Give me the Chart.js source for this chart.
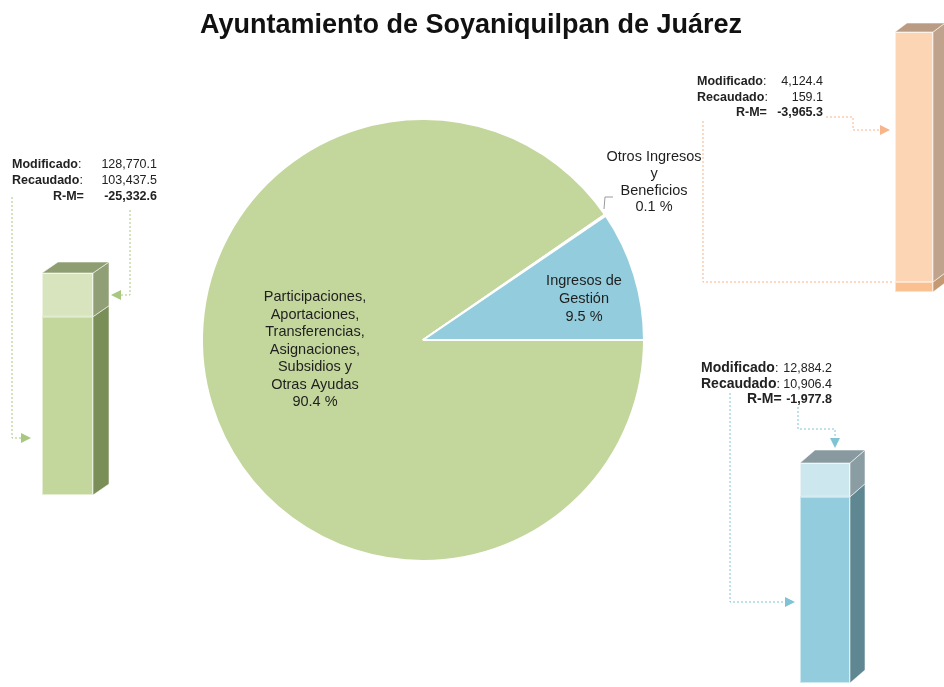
<!DOCTYPE html>
<html lang="es">
<head>
  <meta charset="UTF-8">
  <title>Ayuntamiento de Soyaniquilpan de Juárez</title>
  <script src="https://cdn.jsdelivr.net/npm/chart.js"></script>
  <style>
    body {
      margin: 0;
      background: #fff;
      width: 944px;
      height: 687px;
      position: relative;
      overflow: hidden;
    }
    canvas {
      position: absolute;
    }
  </style>
</head>
<body>

  <canvas id="pastel" width="944" height="687" style="left:0;top:0"></canvas>
  <canvas id="barraVerde"></canvas>
  <canvas id="barraNaranja"></canvas>
  <canvas id="barraAzul"></canvas>

  <script>
    // Datos del pastel (porcentaje del total recaudado)
    const rubros = [
      ['Participaciones,', 'Aportaciones,', 'Transferencias,', 'Asignaciones,', 'Subsidios y', 'Otras Ayudas'],
      ['Otros Ingresos', 'y', 'Beneficios'],
      ['Ingresos de', 'Gestión']
    ];
    const porcentajes = [90.4, 0.1, 9.5];

    // Datos de las barras (miles de pesos)
    const modificado = [128770.1, 4124.4, 12884.2];
    const recaudado = [103437.5, 159.1, 10906.4];
    const diferencia = [-25332.6, -3965.3, -1977.8];

    const colorPastel = ['#C3D69B', '#F6B183', '#93CDDD'];
    const colorFrente = ['#C3D69B', '#FAC090', '#93CDDD'];
    const colorFrenteRM = ['#D7E4BD', '#FCD5B5', '#CDE7EF'];
    const colorLado = ['#7A8F57', '#C49A74', '#5E8791'];
    const colorLadoRM = ['#909F75', '#BFA38C', '#8A9DA3'];
    const colorTecho = ['#8E9E72', '#BA9C85', '#88999F'];
    const colorGuia = ['#A8C77F', '#F8B48A', '#80C3D5'];

    Chart.defaults.font.family = '"Liberation Sans", Arial, sans-serif';

    const fmt = v => v.toLocaleString('en-US', { minimumFractionDigits: 1, maximumFractionDigits: 1 });
    const FUENTE = '"Liberation Sans", Arial, sans-serif';

    // Línea punteada con flecha al final
    function guia(ctx, puntos, color, flecha) {
      ctx.save();
      ctx.strokeStyle = color;
      ctx.lineWidth = 1;
      ctx.setLineDash([2, 2]);
      ctx.beginPath();
      puntos.forEach((p, k) => k ? ctx.lineTo(p[0], p[1]) : ctx.moveTo(p[0], p[1]));
      ctx.stroke();
      ctx.setLineDash([]);
      if (flecha) {
        const a = puntos[puntos.length - 1];
        const b = puntos[puntos.length - 2];
        const ang = Math.atan2(a[1] - b[1], a[0] - b[0]);
        const tip = [a[0] + Math.cos(ang) * 10, a[1] + Math.sin(ang) * 10];
        ctx.fillStyle = color;
        ctx.beginPath();
        ctx.moveTo(tip[0], tip[1]);
        ctx.lineTo(a[0] - Math.sin(ang) * 5, a[1] + Math.cos(ang) * 5);
        ctx.lineTo(a[0] + Math.sin(ang) * 5, a[1] - Math.cos(ang) * 5);
        ctx.closePath();
        ctx.fill();
      }
      ctx.restore();
    }

    // Bloque de texto Modificado / Recaudado / R-M
    function bloque(ctx, i, b) {
      ctx.save();
      ctx.fillStyle = '#222';
      ctx.textBaseline = 'alphabetic';
      ctx.font = 'bold ' + b.t + 'px ' + FUENTE;
      ctx.textAlign = 'left';
      ctx.fillText('Modificado', b.x, b.y);
      ctx.fillText('Recaudado', b.x, b.y + b.paso);
      ctx.fillText('R-M=', b.xrm, b.y + 2 * b.paso);
      const ancho = ctx.measureText('Modificado').width;
      const ancho2 = ctx.measureText('Recaudado').width;
      ctx.font = '12.5px ' + FUENTE;
      ctx.fillText(':', b.x + ancho, b.y);
      ctx.fillText(':', b.x + ancho2, b.y + b.paso);
      ctx.textAlign = 'right';
      ctx.fillText(fmt(modificado[i]), b.xr, b.y);
      ctx.fillText(fmt(recaudado[i]), b.xr, b.y + b.paso);
      ctx.font = 'bold 12.5px ' + FUENTE;
      ctx.fillText(fmt(diferencia[i]), b.xr, b.y + 2 * b.paso);
      ctx.restore();
    }

    const rotulos = {
      id: 'rotulos',
      afterDraw(chart) {
        const ctx = chart.ctx;
        ctx.save();
        // Título
        ctx.fillStyle = '#111';
        ctx.font = 'bold 27px ' + FUENTE;
        ctx.textAlign = 'center';
        ctx.textBaseline = 'alphabetic';
        ctx.fillText('Ayuntamiento de Soyaniquilpan de Juárez', 471, 33);

        // Etiquetas del pastel
        ctx.font = '14.5px ' + FUENTE;
        ctx.fillStyle = '#1f1f1f';
        ctx.textBaseline = 'middle';
        const pos = [[315, 297, 17.5], [654, 157, 16.8], [584, 281, 18]];
        pos.forEach((p, i) => {
          const lineas = rubros[i].concat([porcentajes[i].toFixed(1) + ' %']);
          lineas.forEach((t, k) => ctx.fillText(t, p[0], p[1] + k * p[2]));
        });

        // Guía de "Otros Ingresos"
        ctx.strokeStyle = '#9a9a9a';
        ctx.lineWidth = 1;
        ctx.beginPath();
        ctx.moveTo(604, 209);
        ctx.lineTo(605, 197);
        ctx.lineTo(613, 197);
        ctx.stroke();
        ctx.restore();

        // Textos de las barras
        bloque(ctx, 0, { t: 12.5, x: 12, xrm: 53, xr: 157, y: 168, paso: 16 });
        bloque(ctx, 1, { t: 12.5, x: 697, xrm: 736, xr: 823, y: 85, paso: 15.5 });
        bloque(ctx, 2, { t: 14, x: 701, xrm: 747, xr: 832, y: 372, paso: 15.5 });

        // Guías punteadas
        guia(ctx, [[12, 197], [12, 438], [21, 438]], colorGuia[0], true);
        guia(ctx, [[130, 210], [130, 295], [121, 295]], colorGuia[0], true);
        guia(ctx, [[703, 121], [703, 282], [894, 282]], colorGuia[1], false);
        guia(ctx, [[826, 117], [853, 117], [853, 130], [880, 130]], colorGuia[1], true);
        guia(ctx, [[730, 393], [730, 602], [785, 602]], colorGuia[2], true);
        guia(ctx, [[798, 407], [798, 429], [835, 429], [835, 438]], colorGuia[2], true);
      }
    };

    new Chart(document.getElementById('pastel'), {
      type: 'pie',
      data: {
        labels: rubros.map(r => r.join(' ')),
        datasets: [{
          data: porcentajes,
          backgroundColor: colorPastel,
          borderColor: '#fff',
          borderWidth: 2
        }]
      },
      options: {
        responsive: false,
        animation: false,
        rotation: 90,
        layout: { padding: { left: 201, right: 299, top: 118, bottom: 125 } },
        plugins: { legend: { display: false }, tooltip: { enabled: false } }
      },
      plugins: [rotulos]
    });

    // Caras laterales y superior para dar efecto 3D
    const cubo = {
      id: 'cubo',
      afterDatasetsDraw(chart, args, opts) {
        const ctx = chart.ctx;
        const dx = opts.dx, dy = opts.dy;
        const n = chart.data.datasets.length;
        const poly = pts => {
          ctx.beginPath();
          pts.forEach((p, k) => k ? ctx.lineTo(p[0], p[1]) : ctx.moveTo(p[0], p[1]));
          ctx.closePath();
          ctx.fill();
          ctx.stroke();
        };
        ctx.save();
        ctx.strokeStyle = 'rgba(255,255,255,0.55)';
        ctx.lineWidth = 1;
        for (let d = 0; d < n; d++) {
          const el = chart.getDatasetMeta(d).data[0];
          const izq = el.x - el.width / 2, der = el.x + el.width / 2;
          const arriba = Math.min(el.y, el.base), abajo = Math.max(el.y, el.base);
          ctx.fillStyle = opts.lados[d];
          poly([[der, arriba], [der + dx, arriba - dy], [der + dx, abajo - dy], [der, abajo]]);
          ctx.strokeRect(izq + 0.5, arriba + 0.5, el.width - 1, abajo - arriba - 1);
          if (d === n - 1) {
            ctx.fillStyle = opts.techo;
            poly([[izq, arriba], [izq + dx, arriba - dy], [der + dx, arriba - dy], [der, arriba]]);
          }
        }
        ctx.restore();
      }
    };

    function barra3d(id, i, caja) {
      const c = document.getElementById(id);
      c.width = caja.ancho + caja.dx;
      c.height = caja.alto + caja.dy + 1;
      c.style.left = caja.x + 'px';
      c.style.top = (caja.y - caja.dy) + 'px';
      new Chart(c, {
        type: 'bar',
        data: {
          labels: [rubros[i].join(' ')],
          datasets: [
            { label: 'Recaudado', data: [recaudado[i]], backgroundColor: colorFrente[i] },
            { label: 'R-M', data: [Math.abs(diferencia[i])], backgroundColor: colorFrenteRM[i] }
          ]
        },
        options: {
          responsive: false,
          animation: false,
          barPercentage: 1,
          categoryPercentage: 1,
          layout: { padding: { top: caja.dy, right: caja.dx, bottom: 1, left: 0 } },
          scales: {
            x: { display: false, stacked: true },
            y: { display: false, stacked: true, min: 0, max: modificado[i] }
          },
          plugins: {
            legend: { display: false },
            tooltip: { enabled: false },
            cubo: { dx: caja.dx, dy: caja.dy, lados: [colorLado[i], colorLadoRM[i]], techo: colorTecho[i] }
          }
        },
        plugins: [cubo]
      });
    }

    barra3d('barraVerde', 0, { x: 42, y: 273, ancho: 51, alto: 222, dx: 16, dy: 11 });
    barra3d('barraNaranja', 1, { x: 895, y: 32, ancho: 38, alto: 260, dx: 12, dy: 9 });
    barra3d('barraAzul', 2, { x: 800, y: 463, ancho: 50, alto: 220, dx: 15, dy: 13 });
  </script>

</body>
</html>
